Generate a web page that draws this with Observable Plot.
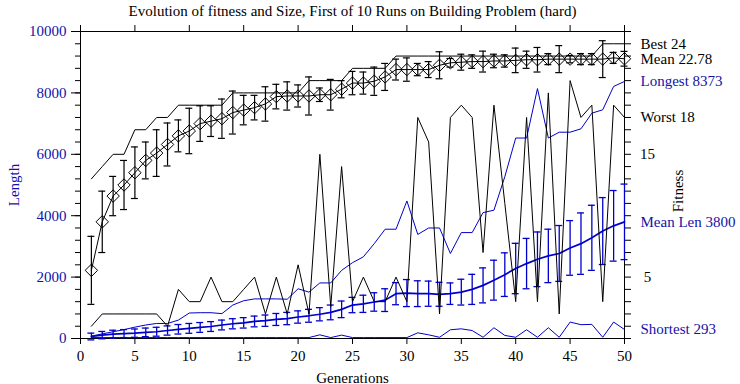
<!DOCTYPE html>
<html><head><meta charset="utf-8">
<script src="https://cdn.jsdelivr.net/npm/d3@7"></script>
<script src="https://cdn.jsdelivr.net/npm/@observablehq/plot@0.6"></script>
<style>body{margin:0;background:#fff}</style>
</head><body><div id="chart"></div>
<script>
const generations = d3.range(1, 51);
const best = [13,14,15,15,17,17,18,18,19,19, 19,19,19,20,20,20,20,20,20,20, 21,21,21,21,22,22,22,22,23,23, 23,23,23,23,23,23,23,23,23,23, 23,23,23,23,23,23,23,24,24,24];
const meanFit = [5.55,9.5,11.6,12.5,13.5,14.5,15.1,15.8,16.5,16.9, 17.5,17.7,17.9,18.4,18.6,18.8,19.1,19.7,19.75,19.75, 19.75,19.85,19.85,20.3,20.8,20.8,20.95,21.3,21.9,21.9, 21.9,21.9,22.25,22.45,22.5,22.55,22.55,22.6,22.6,22.65, 22.7,22.7,22.75,22.75,22.75,22.75,22.75,22.75,22.85,22.78];
const sdFit = [2.77,2.5,1.6,2.0,2.1,1.5,1.9,1.75,1.3,1.85, 1.45,1.25,1.6,1.75,1.2,1.0,1.4,1.0,1.15,0.9, 1.55,0.55,1.25,0.7,0.95,0.9,1.15,1.1,0.85,0.95, 0.5,0.65,1.1,0.35,0.65,0.55,0.85,0.55,0.5,1.0, 0.7,1.0,0.45,1.1,0.3,0.45,0.45,1.5,0.45,0.6];
const worst = [1,2,2,2,2,2,2,1,4,3, 3,5,3,3,4,5,2,5,2,6, 2,15,2.6,14,3,5,3,3,5,3, 18,16,2,18,19,18,7,19,11,3, 18,3,20,2,21,18,19,3,19,18];
const longest = [80,150,220,290,370,440,490,490,600,830, 840,840,810,1090,1230,1290,1290,1290,1280,1620, 1510,1810,1810,2220,2470,2660,3090,3560,3560,4480, 3390,3600,3600,2770,3450,3450,4100,4180,5270,6530, 6530,8140,6530,6720,6720,6830,7340,7450,8210,8373];
const meanLen = [65,110,140,160,175,200,220,260,300,330, 360,390,440,480,510,555,580,620,650,700, 740,790,850,950,1090,1130,1190,1250,1460,1480, 1460,1460,1440,1460,1510,1600,1730,1900,2080,2280, 2440,2580,2690,2770,2950,3090,3280,3500,3670,3800];
const sdLen = [110,120,130,130,135,140,145,150,155,160, 160,160,160,165,170,175,185,195,200,200, 210,215,240,270,250,280,300,370,360,440, 420,410,390,350,420,490,570,650,710,820, 820,890,870,910,890,1000,1060,1090,1150,1230];
const shortest = [30,30,30,30,30,30,30,30,30,30, 30,30,30,30,30,30,30,30,30,30, 30,120,30,110,30,30,30,30,30,30, 185,120,40,285,315,260,40,350,100,40, 285,40,350,40,535,450,460,40,535,293];
const xTicks = [0,5,10,15,20,25,30,35,40,45,50];
const lenTicks = [0,2000,4000,6000,8000,10000];
const fitTickLabels = [5,15];
const FIT = 400; // right axis: fitness 0–25 shares the frame with length 0–10000

const BLUE = "#0000cc", BLUE_TXT = "#1212aa";
const rows = generations.map((g, i) => ({
  g,
  best: best[i] * FIT, worst: worst[i] * FIT,
  mean: meanFit[i] * FIT, lo: (meanFit[i] - sdFit[i]) * FIT, hi: (meanFit[i] + sdFit[i]) * FIT,
  longest: longest[i], meanLen: meanLen[i], lenLo: meanLen[i] - sdLen[i], lenHi: meanLen[i] + sdLen[i],
  shortest: shortest[i]
}));
const last = generations.length - 1;
const blackLabels = [
  {t: `Best ${best[last]}`, v: best[last] * FIT},
  {t: `Mean ${meanFit[last]}`, v: meanFit[last] * FIT},
  {t: `Worst ${worst[last]}`, v: worst[last] * FIT}
];
const blueLabels = [
  {t: `Longest ${longest[last]}`, v: longest[last]},
  {t: `Mean Len ${meanLen[last]}`, v: meanLen[last]},
  {t: `Shortest ${shortest[last]}`, v: shortest[last]}
];
const capW = 0.32;
const xEnd = () => 50;

const chart = Plot.plot({
  width: 740, height: 384,
  marginLeft: 80, marginRight: 116, marginTop: 31, marginBottom: 46,
  x: {domain: [0, 50]},
  y: {domain: [0, 10000]},
  style: {fontFamily: "'Liberation Serif', 'DejaVu Serif', serif", fontSize: "15px", background: "white", color: "black"},
  marks: [
    // axes
    Plot.axisX({ticks: xTicks, tickSize: 6, tickPadding: 6, tickFormat: d => String(d), label: null}),
    Plot.axisX({anchor: "top", ticks: xTicks, tickSize: 7, tickFormat: () => "", label: null}),
    Plot.axisY({ticks: d3.range(0, 10001, 400), tickSize: 5, tickFormat: () => "", label: null}),
    Plot.axisY({ticks: lenTicks, tickSize: 9, tickFormat: () => "", label: null}),
    Plot.axisY({ticks: lenTicks, tickSize: 0, tickPadding: 14, tickFormat: d => String(d), color: BLUE_TXT, label: null}),
    Plot.axisY({anchor: "right", ticks: d3.range(0, 10001, 400), tickSize: 6, tickFormat: () => "", label: null}),
    Plot.text(fitTickLabels, {x: xEnd, y: d => d * FIT, text: d => String(d), dx: 23, textAnchor: "middle"}),
    Plot.frame({stroke: "black"}),
    // length series
    Plot.line(rows, {x: "g", y: "shortest", stroke: BLUE, strokeWidth: 1}),
    Plot.line(rows, {x: "g", y: "longest", stroke: BLUE, strokeWidth: 1}),
    Plot.ruleX(rows, {x: "g", y1: "lenLo", y2: "lenHi", stroke: BLUE, strokeWidth: 1.3}),
    Plot.ruleY(rows, {y: "lenLo", x1: d => d.g - capW, x2: d => d.g + capW, stroke: BLUE, strokeWidth: 1.3}),
    Plot.ruleY(rows, {y: "lenHi", x1: d => d.g - capW, x2: d => d.g + capW, stroke: BLUE, strokeWidth: 1.3}),
    Plot.line(rows, {x: "g", y: "meanLen", stroke: BLUE, strokeWidth: 1.7}),
    // fitness series
    Plot.line(rows, {x: "g", y: "worst", stroke: "black", strokeWidth: 1}),
    Plot.line(rows, {x: "g", y: "best", stroke: "black", strokeWidth: 1}),
    Plot.ruleX(rows, {x: "g", y1: "lo", y2: "hi", stroke: "black", strokeWidth: 1.2}),
    Plot.ruleY(rows, {y: "lo", x1: d => d.g - capW, x2: d => d.g + capW, stroke: "black", strokeWidth: 1.2}),
    Plot.ruleY(rows, {y: "hi", x1: d => d.g - capW, x2: d => d.g + capW, stroke: "black", strokeWidth: 1.2}),
    Plot.line(rows, {x: "g", y: "mean", stroke: "black", strokeWidth: 1}),
    Plot.dot(rows, {x: "g", y: "mean", symbol: "diamond2", r: 5.6, stroke: "black", fill: "none", strokeWidth: 1}),
    // end labels
    Plot.text(blackLabels, {x: xEnd, y: "v", text: "t", dx: 16, textAnchor: "start", fill: "black"}),
    Plot.text(blueLabels, {x: xEnd, y: "v", text: "t", dx: 16, textAnchor: "start", fill: BLUE_TXT}),
    // titles
    Plot.text(["Evolution of fitness and Size, First of 10 Runs on Building Problem (hard)"], {frameAnchor: "top", dy: -26, text: d => d}),
    Plot.text(["Generations"], {frameAnchor: "bottom", dy: 44, text: d => d}),
    Plot.text(["Length"], {frameAnchor: "left", dx: -66, rotate: -90, textAnchor: "middle", lineAnchor: "middle", text: d => d, fill: BLUE_TXT}),
    Plot.text(["Fitness"], {frameAnchor: "right", dx: 54, dy: 6, rotate: -90, textAnchor: "middle", lineAnchor: "middle", text: d => d})
  ]
});
document.getElementById("chart").appendChild(chart);
</script>
</body></html>
